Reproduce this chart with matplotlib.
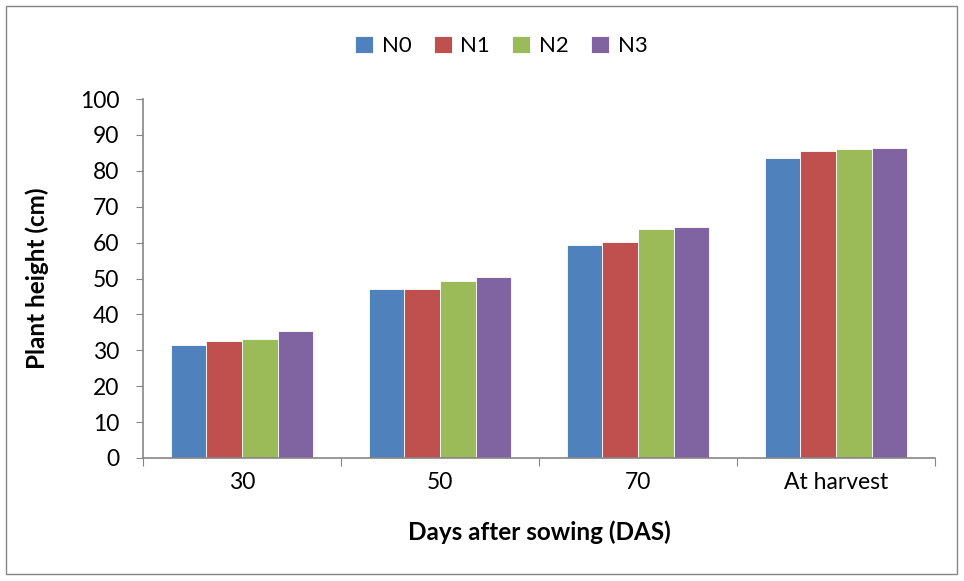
import matplotlib
matplotlib.use("Agg")
import matplotlib.pyplot as plt
import matplotlib.patches as mpatches
import numpy as np

categories = ["30", "50", "70", "At harvest"]
series_names = ["N0", "N1", "N2", "N3"]
N0 = [31.6, 47.0, 59.2, 83.7]
N1 = [32.5, 47.1, 60.3, 85.6]
N2 = [33.2, 49.2, 63.7, 86.1]
N3 = [35.3, 50.3, 64.3, 86.3]
colors = ["#4F81BD", "#C0504D", "#9BBB59", "#8064A2"]

plt.rcParams['font.family'] = ['Lato', 'DejaVu Sans']

fig = plt.figure(figsize=(9.64, 5.81), dpi=100)
ax = fig.add_axes([143/964, 1-458/581, (935-143)/964, (458-99)/581])

x = np.arange(len(categories))
w = 0.18
for i, (vals, c, name) in enumerate(zip([N0, N1, N2, N3], colors, series_names)):
    ax.bar(x + (i - 1.5) * w, vals, w, color=c, label=name,
           edgecolor="#ffffff", linewidth=0.6)

ax.set_xlim(-0.5, 3.5)
ax.set_ylim(0, 100)
ax.set_yticks(np.arange(0, 101, 10))
ax.tick_params(axis='y', labelsize=16.5, length=5, color="#868686", pad=12)
ax.set_xticks(np.arange(-0.5, 3.6, 1.0))
ax.set_xticklabels([])
ax.set_xticks(x, minor=True)
ax.set_xticklabels(categories, minor=True)
ax.tick_params(axis='x', which='major', length=6, color="#868686")
ax.tick_params(axis='x', which='minor', length=0, labelsize=16.5, pad=10)
for s in ["top", "right"]:
    ax.spines[s].set_visible(False)
for s in ["left", "bottom"]:
    ax.spines[s].set_color("#868686")
    ax.spines[s].set_linewidth(1.2)

ax.set_ylabel("Plant height (cm)", fontsize=17.5, fontweight='bold', labelpad=22)
ax.set_xlabel("Days after sowing (DAS)", fontsize=17.5, fontweight='bold', labelpad=20)

fig.legend(loc='upper center', bbox_to_anchor=(0.52, 0.973), ncol=4, frameon=False,
           fontsize=16, handlelength=0.8, handleheight=0.8, handletextpad=0.4,
           columnspacing=1.0)

fig.patches.append(mpatches.Rectangle((6/964, 1-574/581), (957-6)/964, (574-6)/581,
                                      transform=fig.transFigure, fill=False,
                                      edgecolor="#868686", linewidth=1.0))

fig.savefig("out.png", dpi=100)
